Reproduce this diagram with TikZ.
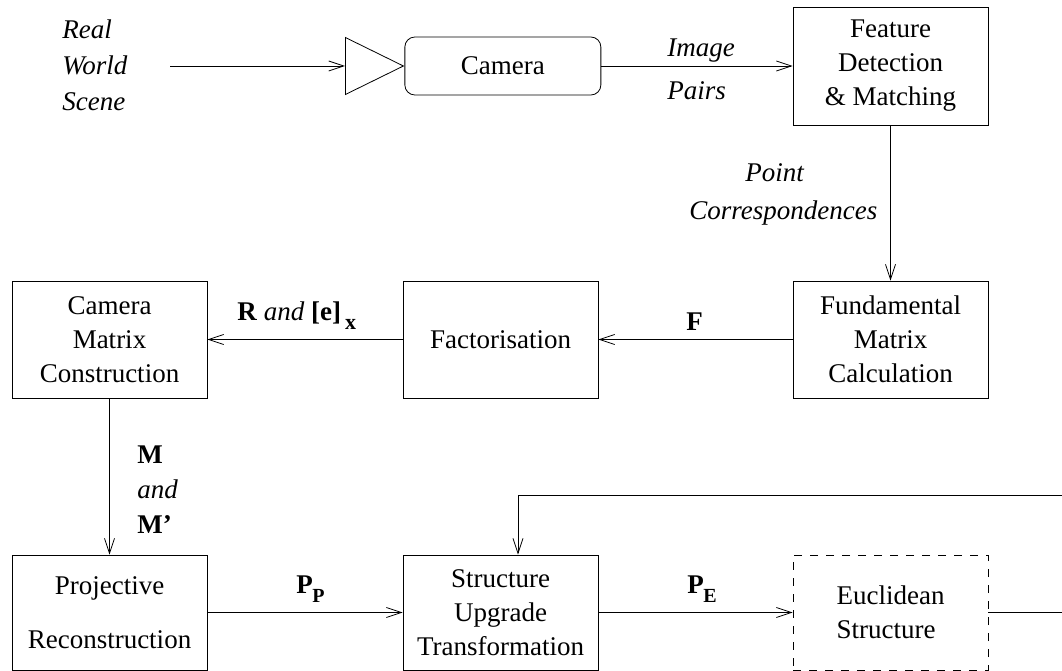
\documentclass[tikz,border=0pt]{standalone}
\usepackage{fontspec}
\setmainfont{Liberation Serif}
\usetikzlibrary{arrows.meta,shapes.geometric}

\newcommand{\figfont}{\fontsize{27}{34}\selectfont}
\newcommand{\subfont}{\fontsize{20}{20}\selectfont}

\begin{document}
\begin{tikzpicture}[x=1pt, y=-1pt, font=\figfont, line width=0.8pt,
    block/.style={draw, minimum width=195pt, minimum height=117pt,
                  align=center, inner sep=0pt},
    flow/.style={-{Straight Barb[length=15pt,width=10pt]}},
    lab/.style={inner sep=0pt, anchor=base west}]
    \useasboundingbox (0,0) rectangle (1062,671);

    % Top row
    \node[align=left, inner sep=0pt, anchor=west] (scene) at (62,65)
        {\itshape Real\\[2pt]\itshape World\\[2pt]\itshape Scene};
    \coordinate (src) at (170,66);
    \node[draw, isosceles triangle, isosceles triangle stretches,
          minimum width=57pt, minimum height=58pt, inner sep=0pt,
          anchor=west] (lens) at (345,66) {};
    \node[draw, rounded corners=10pt, minimum width=196pt,
          minimum height=58pt, inner sep=0pt, anchor=west] (cam) at (lens.apex) {Camera};
    \node[block, minimum height=118pt] (feat) at (890.5,66)
        {Feature\\Detection\\\& Matching};

    % Middle row
    \node[block] (fund) at (890.5,339.5) {Fundamental\\Matrix\\Calculation};
    \node[block] (fact) at (500.5,339.5) {Factorisation};
    \node[block] (cmc) at (109.5,339.5) {Camera\\Matrix\\Construction};

    % Bottom row
    \node[block, minimum height=115pt] (proj) at (109.5,612.5)
        {Projective\\[20pt]Reconstruction};
    \node[block, minimum height=115pt] (sut) at (500.5,612.5)
        {Structure\\Upgrade\\Transformation};
    \node[block, minimum height=115pt, dashed, dash pattern=on 8pt off 8pt,
          align=left] (eucl) at (890.5,612.5) {Euclidean\\Structure};
    \coordinate (loopr) at (1063,495);

    % Arrows
    \draw[flow] (src) -- (lens.west);
    \draw[flow] (cam.east) -- (feat.west);
    \draw[flow] (feat.south) -- (fund.north);
    \draw[flow] (fund.west) -- (fact.east);
    \draw[flow] (fact.west) -- (cmc.east);
    \draw[flow] (cmc.south) -- (proj.north);
    \draw[flow] (proj.east) -- (sut.west);
    \draw[flow] (sut.east) -- (eucl.west);
    \draw[flow] (eucl.east) -- (eucl.east -| loopr) -- (loopr)
        -| ([xshift=17.5pt]sut.north);

    % Labels
    \node[lab] (imglab) at (667,57) {\itshape Image};
    \node[lab] (pairlab) at (667,100) {\itshape Pairs};
    \node[lab] (ptlab) at (745,182) {\itshape Point};
    \node[lab] (corrlab) at (689,219) {\itshape Correspondences};
    \node[lab] (flab) at (686,330) {\bfseries F};
    \node[lab] (relab) at (237,320)
        {\textbf{R} \textit{and} \textbf{[e]}\kern4pt\raisebox{-9pt}{\fontsize{22}{22}\selectfont\bfseries x}};
    \node[align=left, inner sep=0pt, anchor=west] (mlab) at (137,490)
        {\bfseries M\\[1pt]\itshape and\\[1pt]\bfseries M'};
    \node[lab] (pplab) at (296,593)
        {\bfseries P\kern-0.5pt\raisebox{-9pt}{\subfont\bfseries P}};
    \node[lab] (pelab) at (687,593)
        {\bfseries P\kern-0.5pt\raisebox{-9pt}{\subfont\bfseries E}};
\end{tikzpicture}
\end{document}
